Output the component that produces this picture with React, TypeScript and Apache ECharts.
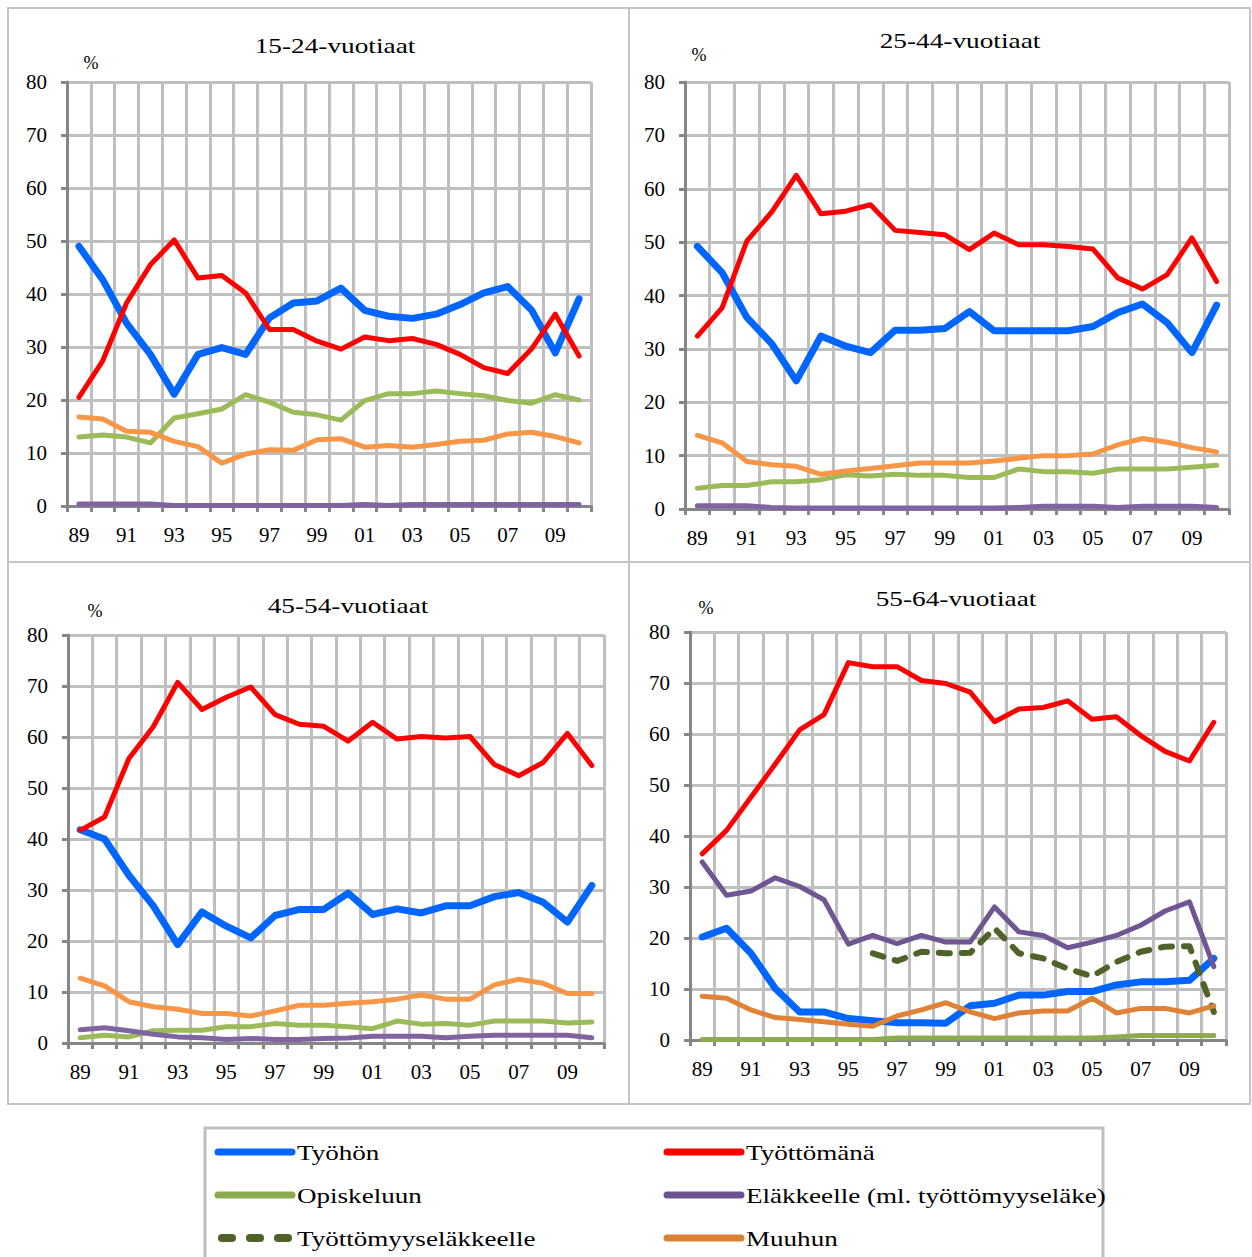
import React, { useEffect, useRef } from 'react';
import * as echarts from 'echarts';

const years = ['89','90','91','92','93','94','95','96','97','98','99','00','01','02','03','04','05','06','07','08','09','10'];

const seriesNames = ['Työhön','Työttömänä','Opiskeluun','Eläkkeelle (ml. työttömyyseläke)','Työttömyyseläkkeelle','Muuhun'];
const panelTitles = ['15-24-vuotiaat','25-44-vuotiaat','45-54-vuotiaat','55-64-vuotiaat'];

// 15-24
const tyohon15 = [49, 42.7, 34.5, 28.6, 21.1, 28.6, 29.9, 28.6, 35.5, 38.3, 38.7, 41.1, 36.9, 35.8, 35.4, 36.2, 38, 40.2, 41.4, 37, 28.9, 39.1];
const tyottomana15 = [20.5, 27.4, 38.3, 45.5, 50.2, 43, 43.5, 40.2, 33.3, 33.3, 31.1, 29.6, 31.9, 31.2, 31.6, 30.5, 28.6, 26.1, 25, 29.6, 36.2, 28.3];
const opiskelu15 = [13, 13.4, 13, 11.9, 16.6, 17.4, 18.3, 21, 19.6, 17.7, 17.2, 16.2, 19.9, 21.2, 21.2, 21.7, 21.2, 20.8, 19.9, 19.4, 21, 20];
const elake15 = [0.4, 0.4, 0.4, 0.4, 0.1, 0.1, 0.1, 0.1, 0.1, 0.1, 0.1, 0.1, 0.3, 0.1, 0.3, 0.3, 0.3, 0.3, 0.3, 0.3, 0.3, 0.3];
const muuhun15 = [16.8, 16.4, 14.1, 13.9, 12.2, 11.2, 8.1, 9.8, 10.6, 10.5, 12.5, 12.7, 11.1, 11.4, 11.1, 11.6, 12.2, 12.4, 13.6, 13.9, 13.1, 11.9];

// 25-44
const tyohon25 = [49.2, 44.3, 35.9, 31, 24, 32.4, 30.5, 29.3, 33.5, 33.5, 33.8, 37, 33.4, 33.4, 33.4, 33.4, 34.2, 36.8, 38.4, 34.9, 29.3, 38.2];
const tyottomana25 = [32.4, 37.7, 50.2, 55.6, 62.5, 55.3, 55.8, 57, 52.2, 51.8, 51.4, 48.6, 51.7, 49.5, 49.5, 49.2, 48.7, 43.3, 41.2, 43.9, 50.8, 42.6];
const opiskelu25 = [3.9, 4.4, 4.4, 5.1, 5.1, 5.5, 6.4, 6.2, 6.5, 6.3, 6.3, 5.9, 5.9, 7.5, 7, 7, 6.7, 7.5, 7.5, 7.5, 7.8, 8.2];
const elake25 = [0.6, 0.6, 0.6, 0.3, 0.2, 0.2, 0.2, 0.2, 0.2, 0.2, 0.2, 0.2, 0.2, 0.3, 0.5, 0.5, 0.5, 0.3, 0.5, 0.5, 0.5, 0.3];
const muuhun25 = [13.8, 12.4, 8.9, 8.3, 8, 6.5, 7.1, 7.6, 8.1, 8.6, 8.6, 8.6, 9, 9.5, 10, 10, 10.3, 12, 13.2, 12.5, 11.5, 10.7];

// 45-54
const tyohon45 = [41.8, 40, 32.9, 26.9, 19.3, 25.7, 22.9, 20.6, 25, 26.2, 26.2, 29.4, 25.2, 26.3, 25.5, 26.9, 26.9, 28.7, 29.5, 27.6, 23.7, 30.9];
const tyottomana45 = [41.7, 44.3, 55.8, 62, 70.7, 65.4, 67.8, 69.8, 64.4, 62.5, 62.1, 59.2, 62.9, 59.6, 60.1, 59.8, 60.1, 54.6, 52.4, 55, 60.7, 54.4];
const opiskelu45 = [1.05, 1.5, 1.2, 2.4, 2.5, 2.5, 3.2, 3.2, 3.8, 3.5, 3.5, 3.2, 2.8, 4.3, 3.7, 3.8, 3.5, 4.3, 4.3, 4.3, 3.9, 4.1];
const elake45 = [2.6, 3, 2.4, 1.7, 1.2, 1.05, 0.7, 0.9, 0.7, 0.7, 0.9, 1, 1.3, 1.3, 1.3, 1.05, 1.3, 1.5, 1.5, 1.5, 1.5, 1.05];
const muuhun45 = [12.7, 11.2, 8.1, 7.1, 6.6, 5.8, 5.8, 5.3, 6.3, 7.4, 7.4, 7.8, 8.1, 8.6, 9.4, 8.6, 8.6, 11.4, 12.5, 11.7, 9.7, 9.7];

// 55-64
const tyohon55 = [20.2, 21.9, 17, 10.1, 5.5, 5.5, 4.2, 3.8, 3.4, 3.4, 3.3, 6.7, 7.2, 8.8, 8.8, 9.5, 9.5, 10.8, 11.4, 11.4, 11.7, 16];
const tyottomana55 = [36.5, 41.1, 47.6, 54.1, 60.8, 63.8, 74, 73.2, 73.2, 70.5, 69.9, 68.2, 62.4, 64.9, 65.2, 66.5, 62.9, 63.4, 59.7, 56.6, 54.7, 62.3];
const opiskelu55 = [0.1, 0.1, 0.1, 0.1, 0.1, 0.1, 0.1, 0.1, 0.4, 0.4, 0.4, 0.4, 0.4, 0.4, 0.4, 0.4, 0.4, 0.6, 0.9, 0.9, 0.9, 0.9];
const elake55 = [34.9, 28.4, 29.2, 31.8, 30.1, 27.5, 18.8, 20.5, 18.9, 20.5, 19.2, 19.2, 26.1, 21.2, 20.5, 18.1, 19.2, 20.5, 22.5, 25.3, 27.1, 14.4];
const tyottElake55 = [null, null, null, null, null, null, null, 17, 15.5, 17.3, 17, 17.1, 21.9, 17, 16, 14, 12.5, 15.3, 17.3, 18.3, 18.4, 5.5];
const muuhun55 = [8.6, 8.2, 5.9, 4.4, 4, 3.6, 3.1, 2.7, 4.7, 5.9, 7.3, 5.5, 4.2, 5.3, 5.7, 5.7, 8.2, 5.3, 6.2, 6.2, 5.3, 6.7];

const panelData: (number | null)[][][] = [
  [tyohon15, tyottomana15, opiskelu15, elake15, [], muuhun15],
  [tyohon25, tyottomana25, opiskelu25, elake25, [], muuhun25],
  [tyohon45, tyottomana45, opiskelu45, elake45, [], muuhun45],
  [tyohon55, tyottomana55, opiskelu55, elake55, tyottElake55, muuhun55],
];

// Layout / style
const FONT = '"Liberation Serif", "Times New Roman", serif';
const grids = [
  { left: 67, top: 82, width: 524, height: 424 },
  { left: 685, top: 82, width: 544, height: 427 },
  { left: 68, top: 635, width: 536, height: 408 },
  { left: 690, top: 632, width: 536, height: 408 },
];
const titlePos = [[335, 46], [960, 41], [348, 606], [956, 599]];
const pctPos = [[91, 63], [699, 55], [95, 611], [706, 608]];

const colorsStd = ['#0066ff', '#ff0000', '#9bbb59', '#8064a2', '#4f6228', '#f79646'];
const colorsP4 = ['#0066ff', '#ff0000', '#8cac4f', '#6f5592', '#4f6228', '#e08236'];
const widths = [7, 5, 5, 5, 6, 5];
const legendColors = ['#0066ff', '#ff0000', '#8caa4e', '#6b548f', '#4f6228', '#dd8033'];
const legendOrder = [0, 1, 2, 3, 4, 5];
const legendCols = [218, 667];
const legendRows = [1152, 1195, 1238];

export default function App() {
  const ref = useRef<HTMLDivElement>(null);
  useEffect(() => {
    if (!ref.current) return;
    const chart = echarts.init(ref.current, undefined, { renderer: 'svg' });

    const series: any[] = [];
    panelData.forEach((pd, pi) => {
      const cols = pi === 3 ? colorsP4 : colorsStd;
      pd.forEach((data, si) => {
        if (!data.length) return;
        series.push({
          type: 'line',
          name: seriesNames[si],
          xAxisIndex: pi,
          yAxisIndex: pi,
          data,
          symbol: 'none',
          silent: true,
          connectNulls: false,
          itemStyle: { color: cols[si] },
          lineStyle: {
            color: cols[si],
            width: widths[si],
            type: si === 4 ? [11, 12] : 'solid',
            cap: 'round',
            join: 'round',
          },
        });
      });
    });

    const graphic: any[] = [];
    const bc = '#c4c4c4';
    graphic.push({ type: 'rect', shape: { x: 8, y: 8, width: 1242, height: 1096 }, style: { fill: 'none', stroke: bc, lineWidth: 2 }, silent: true });
    graphic.push({ type: 'line', shape: { x1: 629, y1: 8, x2: 629, y2: 1104 }, style: { stroke: bc, lineWidth: 2 }, silent: true });
    graphic.push({ type: 'line', shape: { x1: 8, y1: 562, x2: 1250, y2: 562 }, style: { stroke: bc, lineWidth: 2 }, silent: true });
    panelTitles.forEach((t, i) => {
      graphic.push({ type: 'text', x: titlePos[i][0], y: titlePos[i][1], scaleX: 1.3, silent: true,
        style: { text: t, font: `21px ${FONT}`, fill: '#000', textAlign: 'center', textVerticalAlign: 'middle' } });
      graphic.push({ type: 'text', x: pctPos[i][0], y: pctPos[i][1], silent: true,
        style: { text: '%', font: `18px ${FONT}`, fill: '#000', textAlign: 'center', textVerticalAlign: 'middle' } });
    });
    graphic.push({ type: 'rect', shape: { x: 205, y: 1128, width: 898, height: 160 }, style: { fill: 'none', stroke: '#bfbfbf', lineWidth: 3 }, silent: true });
    legendOrder.forEach((si, k) => {
      const cx = legendCols[k % 2];
      const cy = legendRows[Math.floor(k / 2)];
      const dashed = si === 4;
      graphic.push({ type: 'line', silent: true,
        shape: { x1: dashed ? 222 : cx, y1: cy, x2: dashed ? 288 : cx + 74, y2: cy },
        style: { stroke: legendColors[si], lineWidth: dashed ? 8 : 7, lineCap: 'round', lineDash: dashed ? [10, 18] : null } });
      graphic.push({ type: 'text', x: cx + 79, y: cy, scaleX: 1.23, silent: true,
        style: { text: seriesNames[si], font: `22px ${FONT}`, fill: '#000', textAlign: 'left', textVerticalAlign: 'middle' } });
    });

    const option: any = {
      animation: false,
      grid: grids.map(g => ({ ...g })),
      xAxis: grids.map((_, i) => ({
        type: 'category',
        gridIndex: i,
        data: years,
        boundaryGap: true,
        axisLine: { show: true, lineStyle: { color: '#868686', width: 3 } },
        axisTick: { show: true, interval: 0, length: 6, lineStyle: { color: '#868686', width: 3 } },
        axisLabel: { interval: 1, margin: 18, fontFamily: FONT, fontSize: 21, color: '#000' },
        splitLine: { show: true, interval: 0, lineStyle: { color: '#bfbfbf', width: 3 } },
      })),
      yAxis: grids.map((_, i) => ({
        type: 'value',
        gridIndex: i,
        min: 0,
        max: 80,
        interval: 10,
        axisLine: { show: true, lineStyle: { color: '#868686', width: 3 } },
        axisTick: { show: true, length: 6, lineStyle: { color: '#868686', width: 3 } },
        axisLabel: { margin: 20, fontFamily: FONT, fontSize: 21, color: '#000' },
        splitLine: { show: true, lineStyle: { color: '#bfbfbf', width: 3 } },
      })),
      series,
      graphic,
    };
    chart.setOption(option);
    return () => chart.dispose();
  }, []);
  return <div ref={ref} style={{ position: 'absolute', left: 0, top: 0, width: 1252, height: 1257, background: '#fff' }} />;
}
